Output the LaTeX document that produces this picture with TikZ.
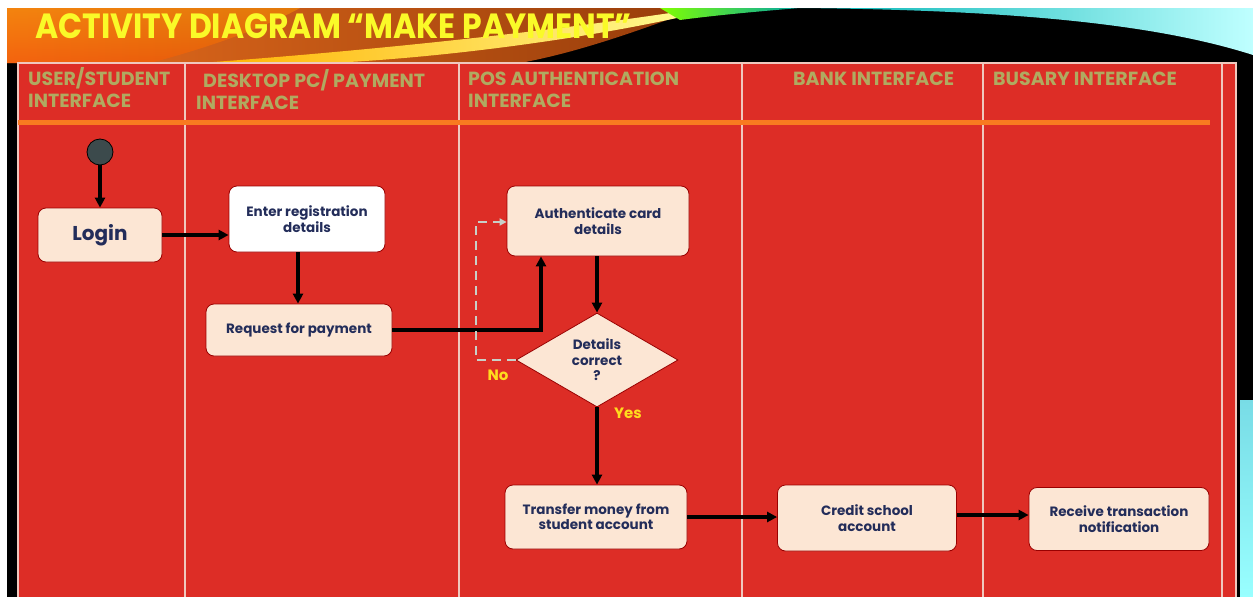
\documentclass[tikz,border=0pt]{standalone}
\usepackage{fontspec}
\usetikzlibrary{arrows.meta,shapes.geometric}
\newfontfamily\pop{Poppins}
\definecolor{lanered}{RGB}{221,45,38}
\definecolor{peach}{RGB}{252,230,212}
\definecolor{navy}{RGB}{35,45,90}
\definecolor{hdr}{RGB}{176,170,96}
\definecolor{lanel}{RGB}{240,200,190}
\definecolor{orl}{RGB}{248,122,32}
\definecolor{ttl}{RGB}{250,250,40}
\definecolor{yeslbl}{RGB}{255,220,30}
\definecolor{dashc}{RGB}{200,208,200}
\definecolor{startc}{RGB}{60,74,76}
\definecolor{bgor}{RGB}{232,110,30}
\definecolor{bgbr}{RGB}{150,60,10}
\definecolor{bgcy}{RGB}{120,220,230}
\tikzset{
  actbox/.style={draw=red!60!black, line width=0.8pt, rounded corners=8pt, fill=peach,
    font=\pop\bfseries\fontsize{13.5}{15.5}\selectfont, text=navy, align=center, inner sep=0pt},
  hdrtxt/.style={font=\pop\bfseries\fontsize{19}{22}\selectfont, text=hdr, anchor=base west, inner sep=0pt},
  flow/.style={line width=3.2pt, draw=black, -{Triangle[length=10pt,width=10pt]}},
  nolbl/.style={font=\pop\bfseries\fontsize{15}{18}\selectfont, text=yeslbl, inner sep=0pt},
  lane/.style={draw=lanel, line width=1.4pt}
}
\begin{document}
\begin{tikzpicture}[x=1pt,y=-1pt]
\useasboundingbox (0,0) rectangle (1253,597);
\fill[white] (0,0) rectangle (1253,597);
% slide background
\fill[black] (7,8) rectangle (1253,597);
\shade[left color=bgor, right color=bgbr]
  (7,8) -- (700,8) .. controls (640,30) and (580,52) .. (520,63) -- (7,63) -- cycle;
\shade[top color=orange!80!yellow, bottom color=orange!70!red, opacity=0.5]
  (7,8) -- (300,8) .. controls (260,30) and (200,50) .. (150,63) -- (7,63) -- cycle;
% yellow swoosh
\shade[left color=orange!60!yellow, right color=yellow!40!white]
  (200,63) .. controls (380,50) and (560,30) .. (690,10) -- (720,8)
  .. controls (600,38) and (440,58) .. (330,63) -- cycle;
\shade[left color=yellow!50!green, right color=teal!70!cyan]
  (660,8) -- (800,8) .. controls (750,12) and (710,16) .. (680,20) -- cycle;
\shade[left color=teal!60!cyan, right color=cyan!25!white]
  (800,8) .. controls (1000,10) and (1150,22) .. (1253,55) -- (1253,8) -- cycle;
\shade[top color=bgcy, bottom color=cyan!40!white]
  (1240,400) rectangle (1253,597);
% title
\node[font=\pop\bfseries\fontsize{35}{40}\selectfont, text=ttl, anchor=base west, inner sep=0pt]
  (title) at (35,38) {\scalebox{0.9}[1]{ACTIVITY DIAGRAM “MAKE PAYMENT”}};
% swimlane table
\fill[lanered] (18,63) rectangle (1236,597);
\draw[lane] (18,597) -- (18,63) -- (1236,63) -- (1236,597);
\foreach \xx in {185,459,742,983,1222} \draw[lane] (\xx,63) -- (\xx,597);
\draw[orl, line width=5pt] (18,122) -- (1210,122);
% headers
\node[hdrtxt] (h1a) at (28,85) {USER/STUDENT};
\node[hdrtxt] (h1b) at (28,107) {INTERFACE};
\node[hdrtxt] (h2a) at (203,87) {DESKTOP PC/ PAYMENT};
\node[hdrtxt] (h2b) at (196,109) {INTERFACE};
\node[hdrtxt] (h3a) at (468,85) {POS AUTHENTICATION};
\node[hdrtxt] (h3b) at (468,107) {INTERFACE};
\node[hdrtxt] (h4) at (793,85) {BANK INTERFACE};
\node[hdrtxt] (h5) at (993,85) {BUSARY INTERFACE};
% nodes
\node[circle, fill=startc, draw=black, line width=0.8pt, minimum size=26pt, inner sep=0pt] (start) at (100,152) {};
\node[actbox, minimum width=124pt, minimum height=54pt, font=\pop\bfseries\fontsize{20}{22}\selectfont] (login) at (100,235) {Login};
\node[actbox, fill=white, minimum width=156pt, minimum height=66pt] (enter) at (307,219) {Enter registration\\details};
\node[actbox, minimum width=186pt, minimum height=52pt] (req) at (299,330) {Request for payment};
\node[actbox, minimum width=182pt, minimum height=70pt] (auth) at (598,221) {Authenticate card\\details};
\node[diamond, draw=red!60!black, line width=0.8pt, fill=peach, minimum width=162pt, minimum height=94pt, inner sep=0pt,
  font=\pop\bfseries\fontsize{13.5}{15.5}\selectfont, text=navy, align=center] (dec) at (597,360) {Details\\correct\\?};
\node[actbox, minimum width=182pt, minimum height=64pt] (trans) at (596,517) {Transfer money from\\student account};
\node[actbox, minimum width=179pt, minimum height=66pt] (credit) at (867,518) {Credit school\\account};
\node[actbox, minimum width=180pt, minimum height=63pt] (recv) at (1119,519) {Receive transaction\\notification};
% connectors
\draw[flow] (start) -- (login);
\draw[flow] (login.east) -- (login.east -| enter.west);
\draw[flow] (enter.south -| 298,0) -- (298,0 |- req.north);
\draw[flow] (req.east) -- (541,330) -- (541,0 |- auth.south);
\draw[flow] (auth.south -| dec.north) -- (dec.north);
\draw[flow] (dec.south) -- (trans.north -| dec.south);
\draw[flow] (trans.east |- 0,517) -- (credit.west |- 0,517);
\draw[flow] (credit.east |- 0,515) -- (recv.west |- 0,515);
\draw[dashc, line width=2pt, dash pattern=on 9pt off 6pt, -{Triangle[length=7pt,width=7pt]}]
  (dec.west) -- (476,360) -- (476,222) -- (auth.west |- 0,222);
\node[nolbl] (nolabel) at (498,375) {No};
\node[nolbl] (yeslabel) at (628,413) {Yes};
\end{tikzpicture}
\end{document}
